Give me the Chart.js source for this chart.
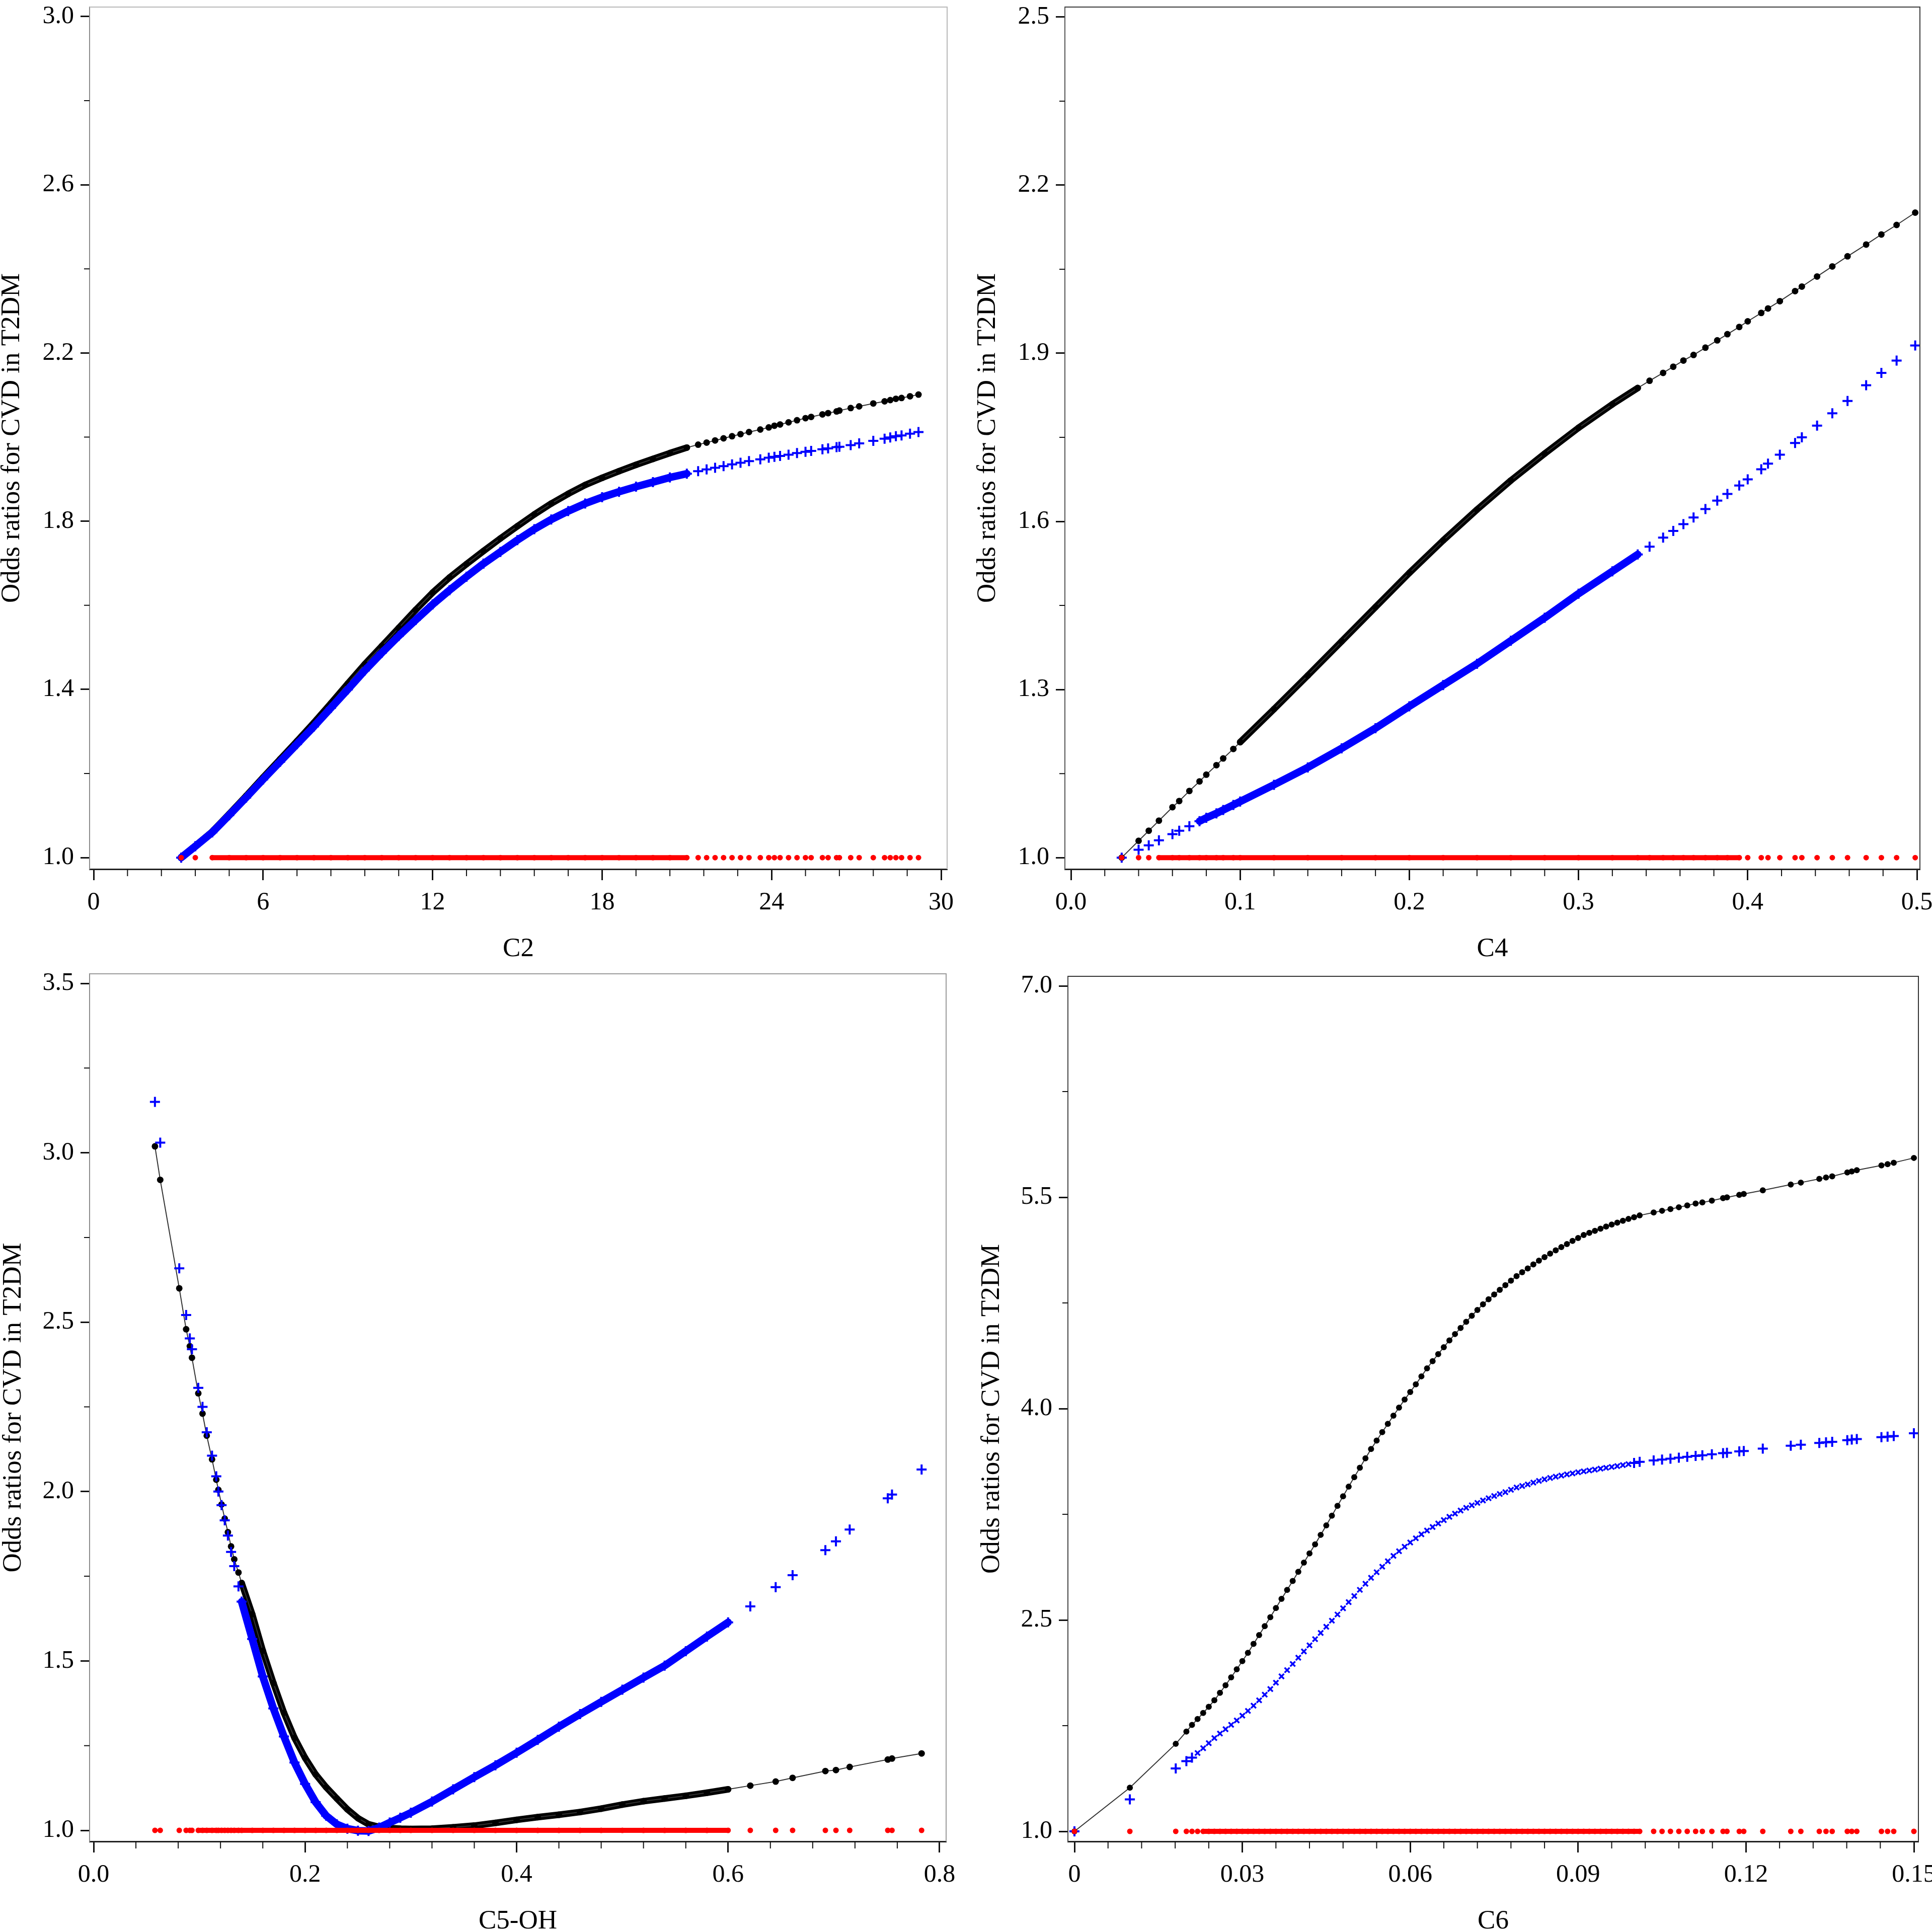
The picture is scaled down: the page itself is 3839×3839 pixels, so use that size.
<!DOCTYPE html>
<html lang="en">
<head>
<meta charset="UTF-8">
<title>Odds ratios for CVD in T2DM</title>
<script src="https://cdn.jsdelivr.net/npm/chart.js"></script>
<style>
  html, body { margin: 0; padding: 0; background: #fff; overflow: hidden; }
  #wrap { position: relative; width: 3839px; height: 3839px; }
  canvas { position: absolute; left: 0; top: 0; }
</style>
</head>
<body>
<div id="wrap">
  <canvas id="c2" width="3839" height="3839"></canvas>
  <canvas id="c4" width="3839" height="3839"></canvas>
  <canvas id="c5oh" width="3839" height="3839"></canvas>
  <canvas id="c6" width="3839" height="3839"></canvas>
</div>

<script>
// reference odds ratio (red markers sit on it)
const refOR = 1.0;

// ---- C2 ----
const c2X = [3.1, 3.6, 4.2, 4.8, 5.4, 6.0, 6.6, 7.2, 7.8, 8.4, 9.0, 9.6, 10.2, 10.8, 11.4, 12.0, 12.6, 13.2, 13.8, 14.4, 15.0, 15.6, 16.2, 16.8, 17.4, 18.0, 18.6, 19.2, 19.8, 20.4, 21.0,
  21.4, 21.7, 22.0, 22.3, 22.6, 22.9, 23.2, 23.6, 23.9, 24.1, 24.3, 24.6, 24.9, 25.2, 25.4, 25.8, 26.0, 26.3, 26.4, 26.8, 27.1, 27.6, 28.0, 28.2, 28.4, 28.6, 28.9, 29.2];
const c2Black = [1.000, 1.028, 1.062, 1.104, 1.147, 1.191, 1.234, 1.277, 1.321, 1.367, 1.414, 1.460, 1.503, 1.546, 1.589, 1.630, 1.666, 1.698, 1.729, 1.759, 1.788, 1.816, 1.842, 1.865, 1.886, 1.903, 1.919, 1.934, 1.948, 1.962, 1.975,
  1.982, 1.987, 1.992, 1.997, 2.002, 2.007, 2.012, 2.018, 2.023, 2.027, 2.030, 2.035, 2.040, 2.045, 2.048, 2.054, 2.057, 2.061, 2.063, 2.069, 2.073, 2.080, 2.085, 2.088, 2.091, 2.093, 2.097, 2.101];
const c2Blue = [1.000, 1.027, 1.060, 1.101, 1.143, 1.186, 1.228, 1.270, 1.312, 1.356, 1.400, 1.445, 1.487, 1.527, 1.565, 1.602, 1.636, 1.668, 1.699, 1.727, 1.755, 1.781, 1.804, 1.824, 1.842, 1.857, 1.870, 1.882, 1.893, 1.904, 1.913,
  1.919, 1.923, 1.927, 1.931, 1.935, 1.939, 1.943, 1.947, 1.951, 1.953, 1.955, 1.958, 1.962, 1.965, 1.967, 1.971, 1.973, 1.976, 1.977, 1.981, 1.985, 1.991, 1.996, 1.999, 2.002, 2.004, 2.008, 2.012];
const c2TickX = [0, 6, 12, 18, 24, 30];
const c2LabelX = ['0', '6', '12', '18', '24', '30'];
const c2TickY = [1.0, 1.4, 1.8, 2.2, 2.6, 3.0];
const c2LabelY = ['1.0', '1.4', '1.8', '2.2', '2.6', '3.0'];

// ---- C4 ----
const c4X = [0.030, 0.040, 0.046, 0.052, 0.060, 0.064, 0.070, 0.076, 0.080, 0.086, 0.090, 0.096,
  0.10, 0.12, 0.14, 0.16, 0.18, 0.20, 0.22, 0.24, 0.26, 0.28, 0.30, 0.32,
  0.335, 0.342, 0.350, 0.356, 0.362, 0.368, 0.375, 0.382, 0.388, 0.395, 0.400, 0.408, 0.412, 0.419, 0.428, 0.432, 0.441, 0.450, 0.459, 0.470, 0.479, 0.488, 0.499];
const c4Black = [1.000, 1.030, 1.048, 1.066, 1.090, 1.101, 1.119, 1.136, 1.148, 1.165, 1.177, 1.194,
  1.206, 1.265, 1.325, 1.386, 1.447, 1.508, 1.566, 1.621, 1.673, 1.721, 1.767, 1.809,
  1.838, 1.851, 1.865, 1.876, 1.887, 1.897, 1.910, 1.923, 1.934, 1.947, 1.957, 1.972, 1.980, 1.993, 2.011, 2.019, 2.037, 2.055, 2.073, 2.094, 2.112, 2.129, 2.151];
const c4Blue = [1.000, 1.014, 1.022, 1.031, 1.042, 1.048, 1.056, 1.065, 1.071, 1.079, 1.085, 1.094,
  1.100, 1.130, 1.161, 1.195, 1.231, 1.270, 1.308, 1.346, 1.387, 1.428, 1.471, 1.511,
  1.541, 1.555, 1.571, 1.583, 1.595, 1.607, 1.622, 1.637, 1.649, 1.664, 1.675, 1.693, 1.703, 1.719, 1.740, 1.750, 1.771, 1.793, 1.815, 1.843, 1.865, 1.887, 1.914];
const c4TickX = [0, 0.1, 0.2, 0.3, 0.4, 0.5];
const c4LabelX = ['0.0', '0.1', '0.2', '0.3', '0.4', '0.5'];
const c4TickY = [1.0, 1.3, 1.6, 1.9, 2.2, 2.5];
const c4LabelY = ['1.0', '1.3', '1.6', '1.9', '2.2', '2.5'];

// ---- C5-OH ----
const c5X = [0.058, 0.063, 0.081, 0.0875, 0.091, 0.093, 0.099, 0.103, 0.107, 0.112, 0.116, 0.118, 0.121, 0.124, 0.127, 0.130, 0.133, 0.137,
  0.140, 0.150, 0.160, 0.170, 0.180, 0.190, 0.200, 0.210, 0.220, 0.230, 0.240, 0.250, 0.260, 0.270, 0.280, 0.290, 0.300,
  0.320, 0.340, 0.360, 0.380, 0.400, 0.420, 0.440, 0.460, 0.480, 0.500, 0.520, 0.540, 0.560, 0.580, 0.600,
  0.621, 0.645, 0.661, 0.692, 0.702, 0.715, 0.751, 0.755, 0.783];
const c5Black = [3.019, 2.920, 2.600, 2.479, 2.429, 2.395, 2.290, 2.230, 2.165, 2.095, 2.035, 2.005, 1.962, 1.920, 1.880, 1.838, 1.800, 1.761,
  1.730, 1.638, 1.530, 1.435, 1.347, 1.273, 1.214, 1.165, 1.127, 1.094, 1.062, 1.036, 1.018, 1.010, 1.007, 1.005, 1.004,
  1.005, 1.009, 1.014, 1.022, 1.031, 1.039, 1.046, 1.054, 1.064, 1.076, 1.086, 1.094, 1.102, 1.111, 1.121,
  1.132, 1.144, 1.155, 1.175, 1.178, 1.187, 1.209, 1.212, 1.227];
const c5Blue = [3.150, 3.030, 2.659, 2.521, 2.452, 2.420, 2.306, 2.250, 2.175, 2.106, 2.045, 2.000, 1.960, 1.915, 1.870, 1.822, 1.780, 1.720,
  1.675, 1.565, 1.454, 1.360, 1.277, 1.200, 1.137, 1.083, 1.043, 1.018, 1.005, 0.999, 0.998, 1.008, 1.023, 1.037, 1.052,
  1.085, 1.121, 1.157, 1.192, 1.229, 1.267, 1.306, 1.343, 1.379, 1.415, 1.451, 1.486, 1.529, 1.572, 1.614,
  1.661, 1.718, 1.753, 1.827, 1.853, 1.888, 1.980, 1.991, 2.065];
const c5TickX = [0, 0.2, 0.4, 0.6, 0.8];
const c5LabelX = ['0.0', '0.2', '0.4', '0.6', '0.8'];
const c5TickY = [1.0, 1.5, 2.0, 2.5, 3.0, 3.5];
const c5LabelY = ['1.0', '1.5', '2.0', '2.5', '3.0', '3.5'];

// ---- C6 ----
const c6X = [0, 0.0099, 0.0181, 0.020, 0.021,
  0.022, 0.023, 0.024, 0.025, 0.026, 0.027, 0.028, 0.029, 0.030, 0.031, 0.032, 0.033, 0.034, 0.035, 0.036, 0.037, 0.038, 0.039, 0.040, 0.041,
  0.042, 0.043, 0.044, 0.045, 0.046, 0.047, 0.048, 0.049, 0.050, 0.051, 0.052, 0.053, 0.054, 0.055, 0.056, 0.057, 0.058, 0.059, 0.060, 0.061,
  0.062, 0.063, 0.064, 0.065, 0.066, 0.067, 0.068, 0.069, 0.070, 0.071, 0.072, 0.073, 0.074, 0.075, 0.076, 0.077, 0.078, 0.079, 0.080, 0.081,
  0.082, 0.083, 0.084, 0.085, 0.086, 0.087, 0.088, 0.089, 0.090, 0.091, 0.092, 0.093, 0.094, 0.095, 0.096, 0.097, 0.098, 0.099, 0.100, 0.101,
  0.1035, 0.105, 0.1065, 0.108, 0.1095, 0.111, 0.1122, 0.1139, 0.1159, 0.1166, 0.1188, 0.1196, 0.1230, 0.1280, 0.1298, 0.1331, 0.1343, 0.1354,
  0.1381, 0.1389, 0.1398, 0.1442, 0.1453, 0.1464, 0.1500];
const c6Black = [1.000, 1.310, 1.621, 1.708, 1.755,
  1.797, 1.840, 1.884, 1.930, 1.983, 2.037, 2.093, 2.150, 2.208, 2.267, 2.330, 2.393, 2.456, 2.520, 2.585, 2.650, 2.713, 2.777, 2.842, 2.907,
  2.972, 3.037, 3.104, 3.171, 3.240, 3.310, 3.378, 3.446, 3.513, 3.580, 3.647, 3.713, 3.773, 3.833, 3.892, 3.950, 4.007, 4.064, 4.118, 4.172,
  4.229, 4.286, 4.337, 4.387, 4.436, 4.484, 4.529, 4.572, 4.616, 4.659, 4.700, 4.740, 4.776, 4.810, 4.843, 4.876, 4.908, 4.940, 4.968, 4.995,
  5.023, 5.050, 5.075, 5.100, 5.123, 5.146, 5.168, 5.190, 5.211, 5.232, 5.247, 5.262, 5.277, 5.292, 5.306, 5.320, 5.333, 5.346, 5.358, 5.371,
  5.392, 5.404, 5.416, 5.429, 5.442, 5.455, 5.463, 5.476, 5.494, 5.499, 5.517, 5.523, 5.549, 5.590, 5.604, 5.630, 5.640, 5.648,
  5.676, 5.683, 5.692, 5.726, 5.735, 5.745, 5.779];
const c6Blue = [1.000, 1.227, 1.446, 1.498, 1.523,
  1.556, 1.590, 1.626, 1.662, 1.694, 1.725, 1.756, 1.787, 1.821, 1.855, 1.892, 1.930, 1.970, 2.010, 2.055, 2.100, 2.144, 2.188, 2.232, 2.277,
  2.320, 2.364, 2.408, 2.452, 2.495, 2.539, 2.583, 2.627, 2.670, 2.714, 2.757, 2.799, 2.839, 2.878, 2.917, 2.955, 2.988, 3.020, 3.050, 3.080,
  3.108, 3.135, 3.160, 3.185, 3.209, 3.232, 3.255, 3.277, 3.296, 3.314, 3.331, 3.348, 3.364, 3.380, 3.394, 3.407, 3.424, 3.440, 3.451, 3.462,
  3.475, 3.487, 3.498, 3.508, 3.517, 3.525, 3.533, 3.540, 3.548, 3.555, 3.561, 3.567, 3.574, 3.580, 3.586, 3.592, 3.599, 3.606, 3.614, 3.622,
  3.632, 3.638, 3.645, 3.652, 3.658, 3.664, 3.669, 3.676, 3.684, 3.687, 3.696, 3.699, 3.716, 3.737, 3.744, 3.756, 3.761, 3.764,
  3.776, 3.780, 3.784, 3.797, 3.801, 3.805, 3.825];
const c6TickX = [0, 0.03, 0.06, 0.09, 0.12, 0.15];
const c6LabelX = ['0', '0.03', '0.06', '0.09', '0.12', '0.15'];
const c6TickY = [1.0, 2.5, 4.0, 5.5, 7.0];
const c6LabelY = ['1.0', '2.5', '4.0', '5.5', '7.0'];

const yTitle = 'Odds ratios for CVD in T2DM';
const PAGE = 3839;
const tickFont = { family: 'Liberation Serif', size: 50 };
const titleFont = { family: 'Liberation Serif', size: 53, lineHeight: 0.8 };

// minor ticks split each major interval
function minorBetween(majors, n) {
  const out = [];
  for (let i = 0; i < majors.length - 1; i++) {
    const step = (majors[i + 1] - majors[i]) / n;
    for (let k = 1; k < n; k++) out.push(majors[i] + step * k);
  }
  return out;
}

function pts(xs, ys, range) {
  const out = [];
  xs.forEach((x, i) => {
    if (!range || (x >= range[0] - 1e-9 && x <= range[1] + 1e-9)) out.push({ x: x, y: ys[i] });
  });
  return out;
}

const minorTicks = {
  id: 'minorTicks',
  afterDraw(chart, args, opts) {
    const { ctx, chartArea: a } = chart;
    const sx = chart.scales.x, sy = chart.scales.y;
    ctx.save();
    // frame on top and right
    ctx.strokeStyle = opts.frame;
    ctx.lineWidth = 2;
    ctx.beginPath();
    ctx.moveTo(a.left, a.top);
    ctx.lineTo(a.right, a.top);
    ctx.lineTo(a.right, a.bottom);
    ctx.stroke();
    ctx.strokeStyle = '#111';
    ctx.lineWidth = 2;
    ctx.beginPath();
    opts.x.forEach(v => {
      const p = sx.getPixelForValue(v);
      ctx.moveTo(p, a.bottom);
      ctx.lineTo(p, a.bottom + 14);
    });
    opts.y.forEach(v => {
      const p = sy.getPixelForValue(v);
      ctx.moveTo(a.left, p);
      ctx.lineTo(a.left - 11, p);
    });
    ctx.stroke();
    ctx.restore();
  }
};

function makePanel(p) {
  const a = p.area;
  const xT = p.tickX, yT = p.tickY;
  const xppu = (p.xAt[1] - p.xAt[0]) / (xT[xT.length - 1] - xT[0]);
  const yppu = (p.yAt[0] - p.yAt[1]) / (yT[yT.length - 1] - yT[0]);
  const xMin = xT[0] - (p.xAt[0] - a.l) / xppu;
  const xMax = xT[xT.length - 1] + (a.r - p.xAt[1]) / xppu;
  const yMin = yT[0] - (a.b - p.yAt[0]) / yppu;
  const yMax = yT[yT.length - 1] + (p.yAt[1] - a.t) / yppu;

  const redY = p.xs.map(() => refOR);
  const small = c => !!(p.smallCross && c.raw && c.raw.x >= p.smallCross[0] && c.raw.x <= p.smallCross[1]);
  const datasets = [];
  if (p.band.black) datasets.push({
    data: pts(p.xs, p.black, p.band.black), showLine: true, borderColor: '#000', borderWidth: 13,
    borderCapStyle: 'round', borderJoinStyle: 'round', pointRadius: 0, order: 6
  });
  datasets.push({
    data: pts(p.xs, p.black), showLine: true, borderColor: '#333', borderWidth: 2,
    pointRadius: p.dot, pointBackgroundColor: '#000', pointBorderWidth: 0, order: 5
  });
  if (p.band.blue) datasets.push({
    data: pts(p.xs, p.blue, p.band.blue), showLine: true, borderColor: '#0000ff', borderWidth: 15,
    borderCapStyle: 'round', borderJoinStyle: 'round', pointRadius: 0, order: 4
  });
  datasets.push({
    data: pts(p.xs, p.blue), showLine: false,
    pointStyle: c => small(c) ? 'crossRot' : 'cross',
    pointRadius: c => small(c) ? 7 : 10,
    pointBorderWidth: c => small(c) ? 3.5 : 4,
    pointBorderColor: '#0000ff', order: 3
  });
  if (p.band.red) datasets.push({
    data: pts(p.xs, redY, p.band.red), showLine: true, borderColor: '#ff0000', borderWidth: 10,
    borderCapStyle: 'round', pointRadius: 0, order: 2
  });
  datasets.push({
    data: pts(p.xs, redY), showLine: false, pointRadius: 5.5, pointBackgroundColor: '#ff0000',
    pointBorderWidth: 0, order: 1
  });

  new Chart(document.getElementById(p.id), {
    type: 'scatter',
    data: { datasets: datasets },
    options: {
      responsive: false,
      animation: false,
      devicePixelRatio: 1,
      events: [],
      layout: { padding: { left: p.yBoxLeft, top: a.t, right: PAGE - a.r, bottom: PAGE - p.xBoxBottom } },
      plugins: {
        legend: { display: false },
        tooltip: { enabled: false },
        minorTicks: { x: minorBetween(xT, 5), y: minorBetween(yT, 2), frame: p.frame }
      },
      scales: {
        x: {
          type: 'linear', position: 'bottom', min: xMin, max: xMax,
          afterBuildTicks: s => { s.ticks = xT.map(v => ({ value: v })); },
          afterFit: s => { s.height = p.xBoxBottom - a.b; s.paddingLeft = 0; s.paddingRight = 0; },
          ticks: { autoSkip: false, maxRotation: 0, padding: 15, color: '#000', font: tickFont,
                   callback: (v, i) => p.labelX[i] },
          grid: { drawOnChartArea: false, drawTicks: true, tickLength: 22, tickWidth: 3, tickColor: '#111' },
          border: { display: true, color: '#222', width: 3 },
          title: { display: true, text: p.xTitle, color: '#000', font: titleFont, padding: 0 }
        },
        y: {
          type: 'linear', position: 'left', min: yMin, max: yMax,
          afterBuildTicks: s => { s.ticks = yT.map(v => ({ value: v })); },
          afterFit: s => { s.width = a.l - p.yBoxLeft; s.paddingTop = 0; s.paddingBottom = 0; },
          ticks: { autoSkip: false, padding: 13, color: '#000', font: tickFont,
                   callback: (v, i) => p.labelY[i] },
          grid: { drawOnChartArea: false, drawTicks: true, tickLength: 18, tickWidth: 3, tickColor: '#111' },
          border: { display: true, color: p.yLine, width: 2 },
          title: { display: true, text: yTitle, color: '#000', font: titleFont, padding: 0 }
        }
      }
    },
    plugins: [minorTicks]
  });
}

makePanel({ id: 'c2', xs: c2X, black: c2Black, blue: c2Blue, tickX: c2TickX, labelX: c2LabelX, tickY: c2TickY, labelY: c2LabelY,
  xTitle: 'C2', area: { l: 178, t: 2, r: 1882, b: 1727 }, xAt: [186, 1870], yAt: [1704, 21],
  yBoxLeft: 3, xBoxBottom: 1907, frame: '#b8b8b8', yLine: '#8c8c8c', dot: 6.5,
  band: { black: [3.1, 21.0], blue: [3.1, 21.0], red: [4.2, 21.0] } });

makePanel({ id: 'c4', xs: c4X, black: c4Black, blue: c4Blue, tickX: c4TickX, labelX: c4LabelX, tickY: c4TickY, labelY: c4LabelY,
  xTitle: 'C4', area: { l: 2116, t: 2, r: 3815, b: 1727 }, xAt: [2128, 3809], yAt: [1704, 22],
  yBoxLeft: 1942, xBoxBottom: 1907, frame: '#3a3a3a', yLine: '#555555', dot: 6.5,
  band: { black: [0.10, 0.335], blue: [0.076, 0.335], red: [0.052, 0.395] } });

makePanel({ id: 'c5oh', xs: c5X, black: c5Black, blue: c5Blue, tickX: c5TickX, labelX: c5LabelX, tickY: c5TickY, labelY: c5LabelY,
  xTitle: 'C5-OH', area: { l: 178, t: 1935, r: 1880, b: 3659 }, xAt: [186, 1867], yAt: [3637, 1954],
  yBoxLeft: 6, xBoxBottom: 3839, frame: '#9a9a9a', yLine: '#8c8c8c', dot: 6.5,
  band: { black: [0.14, 0.60], blue: [0.14, 0.60], red: [0.099, 0.60] } });

makePanel({ id: 'c6', xs: c6X, black: c6Black, blue: c6Blue, tickX: c6TickX, labelX: c6LabelX, tickY: c6TickY, labelY: c6LabelY,
  xTitle: 'C6', area: { l: 2122, t: 1940, r: 3812, b: 3659 }, xAt: [2135, 3803], yAt: [3639, 1959],
  yBoxLeft: 1950, xBoxBottom: 3839, frame: '#333333', yLine: '#444444', dot: 6,
  smallCross: [0.0215, 0.0995],
  band: { black: null, blue: null, red: [0.023, 0.101] } });
</script>
</body>
</html>
